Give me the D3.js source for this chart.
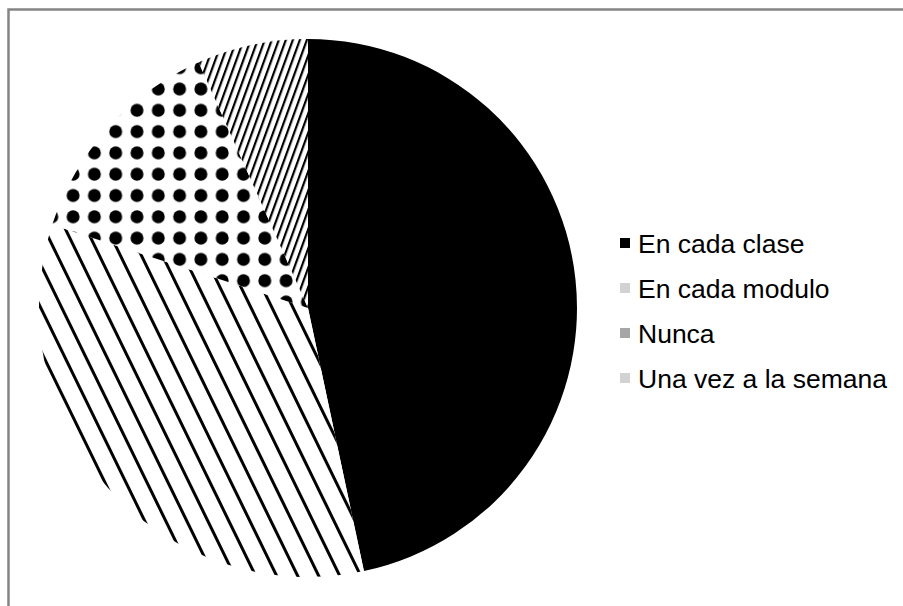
<!DOCTYPE html>
<html>
<head>
<meta charset="utf-8">
<script src="https://cdn.jsdelivr.net/npm/d3@7"></script>
<style>
  body { margin: 0; background: #ffffff; }
  text { font-family: "Liberation Sans", Arial, sans-serif; }
</style>
</head>
<body>
<svg id="chart" width="903" height="606"></svg>
<script>
// Frequency answers and their counts
const categories = ["En cada clase", "En cada modulo", "Nunca", "Una vez a la semana"];
const values = [14, 10, 4, 2];
// Fill treatment for each slice and the swatch colour shown in the legend
const sliceFills = ["solid", "wideStripes", "dots", "fineStripes"];
const legendColors = ["#000000", "#d2d2d2", "#a6a6a6", "#d2d2d2"];

const W = 903, H = 606;
const cx = 308, cy = 308, R = 269;

const svg = d3.select("#chart");
const defs = svg.append("defs");

// Wide "\" stripes
const wideGap = 18.9;
const wide = defs.append("pattern")
  .attr("id", "wideStripes")
  .attr("patternUnits", "userSpaceOnUse")
  .attr("width", wideGap).attr("height", wideGap)
  .attr("patternTransform", "translate(263,573) rotate(-26)");
wide.append("rect").attr("width", wideGap).attr("height", wideGap).attr("fill", "#ffffff");
wide.append("rect").attr("x", 0).attr("y", 0).attr("width", 3).attr("height", wideGap).attr("fill", "#000000");

// Fine "/" stripes
const fineGap = 6.6;
const fine = defs.append("pattern")
  .attr("id", "fineStripes")
  .attr("patternUnits", "userSpaceOnUse")
  .attr("width", fineGap).attr("height", fineGap)
  .attr("patternTransform", "translate(300,40) rotate(20)");
fine.append("rect").attr("width", fineGap).attr("height", fineGap).attr("fill", "#ffffff");
fine.append("rect").attr("x", 0).attr("y", 0).attr("width", 2.2).attr("height", fineGap).attr("fill", "#000000");

// Dot grid
const step = 21.3;
const dots = defs.append("pattern")
  .attr("id", "dots")
  .attr("patternUnits", "userSpaceOnUse")
  .attr("x", 63.3 - step / 2).attr("y", 207 - step / 2)
  .attr("width", step).attr("height", step);
dots.append("rect").attr("width", step).attr("height", step).attr("fill", "#ffffff");
dots.append("circle").attr("cx", step / 2).attr("cy", step / 2).attr("r", 6.5).attr("fill", "#000000");

// Frame (open on the right and bottom)
svg.append("path")
  .attr("d", `M8.5,${H + 5} V9.5 H${W + 5}`)
  .attr("fill", "none")
  .attr("stroke", "#858585")
  .attr("stroke-width", 2.5);

// Pie
const pie = d3.pie().sort(null).value(d => d.value);
const arc = d3.arc().innerRadius(0).outerRadius(R);
const data = categories.map((c, i) => ({ name: c, value: values[i], fill: sliceFills[i] }));

svg.append("g")
  .attr("transform", `translate(${cx},${cy})`)
  .selectAll("path")
  .data(pie(data))
  .join("path")
  .attr("d", arc)
  .attr("fill", d => d.data.fill === "solid" ? "#000000" : `url(#${d.data.fill})`);

// Legend
const legendY = d3.scalePoint().domain(categories).range([243, 378]);
const legend = svg.append("g");
const items = legend.selectAll("g").data(categories).join("g")
  .attr("transform", d => `translate(620,${legendY(d)})`);
items.append("rect")
  .attr("x", 0).attr("y", -5)
  .attr("width", 10).attr("height", 10)
  .attr("fill", (d, i) => legendColors[i]);
items.append("text")
  .attr("x", 18).attr("y", 9.5)
  .attr("font-size", 26.5)
  .attr("fill", "#000000")
  .text(d => d);
</script>
</body>
</html>
